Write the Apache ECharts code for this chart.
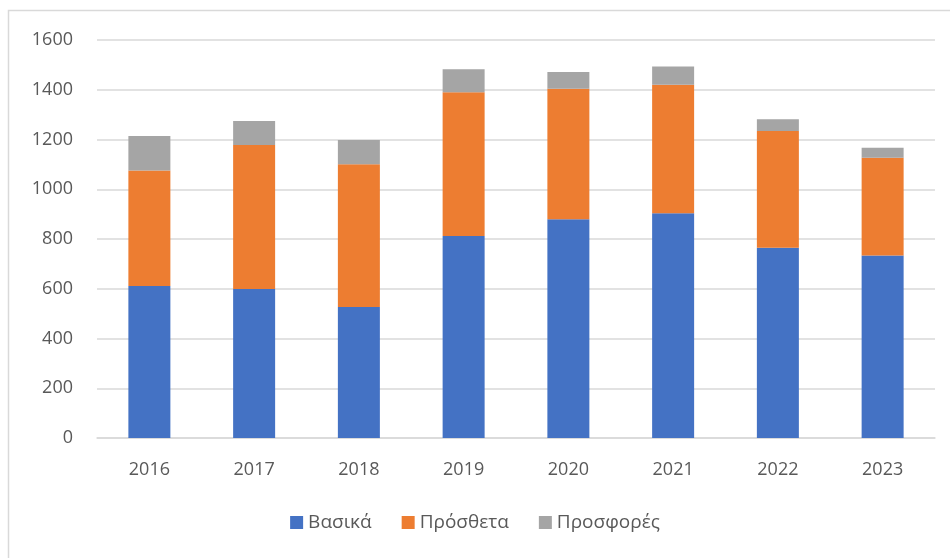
<!DOCTYPE html>
<html>
<head>
<meta charset="utf-8">
<script src="https://cdn.jsdelivr.net/npm/echarts@6/dist/echarts.min.js"></script>
<style>
  html, body { margin: 0; padding: 0; background: #fff; }
  #main { width: 950px; height: 558px; }
</style>
</head>
<body>
<div id="main"></div>
<script>
var years = ['2016', '2017', '2018', '2019', '2020', '2021', '2022', '2023'];
var vasika = [611, 599, 527, 812, 879, 904, 765, 734];
var prostheta = [464, 579, 574, 578, 525, 516, 469, 393];
var prosfores = [139, 96, 97, 92, 67, 73, 47, 40];
var yTicks = [0, 200, 400, 600, 800, 1000, 1200, 1400, 1600];

var chart = echarts.init(document.getElementById('main'));
var txt = '#595959';
var font = 'Open Sans, Noto Sans, sans-serif';

function bar(name, data, color) {
    return {
        name: name,
        type: 'bar',
        stack: 'total',
        barWidth: 42,
        data: data,
        itemStyle: { color: color },
        emphasis: { disabled: true }
    };
}

var option = {
    animation: false,
    textStyle: { fontFamily: font },
    graphic: [{
        type: 'polyline',
        shape: { points: [[8.5, 558], [8.5, 10.5], [950, 10.5]] },
        style: { stroke: '#d9d9d9', lineWidth: 1.5, fill: null },
        silent: true
    }],
    grid: { left: 97, right: 15, top: 40, bottom: 120 },
    legend: {
        bottom: 21,
        left: 'center',
        itemWidth: 13,
        itemHeight: 13,
        itemGap: 30,
        icon: 'rect',
        textStyle: { color: txt, fontSize: 19, fontFamily: font },
        data: ['Βασικά', 'Πρόσθετα', 'Προσφορές']
    },
    xAxis: {
        type: 'category',
        data: years,
        axisLine: { lineStyle: { color: '#d9d9d9', width: 1.5 } },
        axisTick: { show: false },
        axisLabel: { color: txt, fontSize: 18, margin: 23 }
    },
    yAxis: {
        type: 'value',
        min: yTicks[0],
        max: yTicks[yTicks.length - 1],
        interval: 200,
        axisLine: { show: false },
        axisTick: { show: false },
        axisLabel: { color: txt, fontSize: 18, margin: 24, formatter: function (v) { return String(v); } },
        splitLine: { lineStyle: { color: '#d9d9d9', width: 1.5 } }
    },
    series: [
        bar('Βασικά', vasika, '#4472c4'),
        bar('Πρόσθετα', prostheta, '#ed7d31'),
        bar('Προσφορές', prosfores, '#a5a5a5')
    ]
};
chart.setOption(option);
</script>
</body>
</html>
